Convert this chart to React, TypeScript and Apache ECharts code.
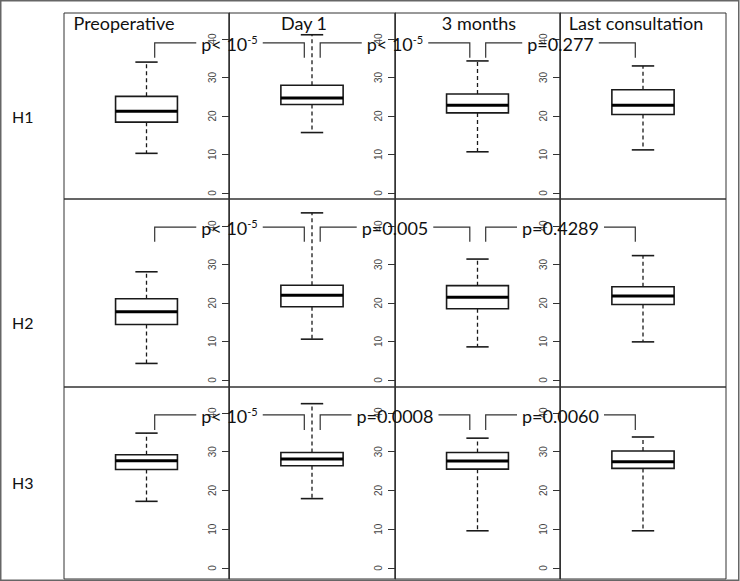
import React, { useEffect, useRef } from "react";
import * as echarts from "echarts";

// ---------- data ----------
const rowLabels = ["H1", "H2", "H3"];
const columns = ["Preoperative", "Day 1", "3 months", "Last consultation"];
const yTicks = [0, 10, 20, 30, 40];
// each box: [lower whisker, Q1, median, Q3, upper whisker]
const h1Boxes = [
  [10.3, 18.4, 21.2, 25.1, 34.0],
  [15.7, 23.0, 24.7, 28.0, 41.1],
  [10.7, 20.8, 22.8, 25.7, 34.3],
  [11.2, 20.4, 22.8, 26.8, 33.0],
];
const h2Boxes = [
  [4.3, 14.4, 17.7, 21.1, 28.1],
  [10.6, 19.0, 22.0, 24.6, 43.4],
  [8.6, 18.5, 21.5, 24.5, 31.4],
  [9.9, 19.6, 21.8, 24.2, 32.3],
];
const h3Boxes = [
  [17.2, 25.4, 27.7, 29.2, 34.8],
  [17.9, 26.4, 28.1, 29.8, 42.4],
  [9.6, 25.5, 27.6, 29.8, 33.5],
  [9.6, 25.7, 27.4, 30.2, 33.8],
];
const h1PValues = ["p< 10^-5", "p< 10^-5", "p=0.277"];
const h2PValues = ["p< 10^-5", "p=0.005", "p=0.4289"];
const h3PValues = ["p< 10^-5", "p=0.0008", "p=0.0060"];

const allBoxes = [h1Boxes, h2Boxes, h3Boxes];
const allPValues = [h1PValues, h2PValues, h3PValues];

// ---------- layout ----------
const colEdges = [64, 229, 395, 560, 726];
const rowTops = [13, 199, 387];
const rowHeights = [186, 188, 192];
const rowRanges = [
  [-1.56, 46.75],
  [-1.82, 47.0],
  [-2.84, 46.7],
];
const bracketLevels = [
  [35.1, 39.0],
  [35.9, 39.7],
  [35.6, 39.5],
];
const headerX = [124, 304, 479, 636];
const rowLabelY = [116, 322, 482];

const FONT = "Lato";
const P_SIZE = 18;
const SUP_SIZE = 11;

let measureCtx: CanvasRenderingContext2D | null = null;
function textWidth(label: string): number {
  if (!measureCtx) measureCtx = document.createElement("canvas").getContext("2d");
  const [a, b] = label.split("^");
  measureCtx!.font = `${P_SIZE}px ${FONT}`;
  let w = measureCtx!.measureText(a).width;
  if (b) {
    measureCtx!.font = `${SUP_SIZE}px ${FONT}`;
    w += measureCtx!.measureText(b).width;
  }
  return w;
}
function richLabel(label: string): string {
  const [a, b] = label.split("^");
  return b ? `${a}{sup|${b}}` : a;
}

const STROKE = "#1a1a1a";

function boxRender(params: any, api: any) {
  const x = api.coord([0, api.value(3)])[0];
  const bw = api.size([1, 0])[0];
  const ys = [1, 2, 3, 4, 5].map((k) => api.coord([0, api.value(k)])[1]);
  const [yMin, yQ1, yMed, yQ3, yMax] = ys;
  const hb = (bw * 0.375) / 2;
  const hc = (bw * 0.135) / 2;
  return {
    type: "group",
    children: [
      { type: "line", shape: { x1: x, y1: yQ3, x2: x, y2: yMax }, style: { stroke: STROKE, lineWidth: 1.3, lineDash: [4, 3] } },
      { type: "line", shape: { x1: x, y1: yQ1, x2: x, y2: yMin }, style: { stroke: STROKE, lineWidth: 1.3, lineDash: [4, 3] } },
      { type: "line", shape: { x1: x - hc, y1: yMax, x2: x + hc, y2: yMax }, style: { stroke: STROKE, lineWidth: 1.6 } },
      { type: "line", shape: { x1: x - hc, y1: yMin, x2: x + hc, y2: yMin }, style: { stroke: STROKE, lineWidth: 1.6 } },
      { type: "rect", shape: { x: x - hb, y: yQ3, width: 2 * hb, height: yQ1 - yQ3 }, style: { fill: "#fff", stroke: STROKE, lineWidth: 1.6 } },
      { type: "line", shape: { x1: x - hb, y1: yMed, x2: x + hb, y2: yMed }, style: { stroke: "#000", lineWidth: 3 } },
    ],
  };
}

function makeBracketRender(r: number) {
  return (params: any, api: any) => {
    const i = api.value(0);
    const label = allPValues[r][i];
    const [lo, hi] = bracketLevels[r];
    const bw = api.size([1, 0])[0];
    const off = bw * 0.048;
    const a = api.coord([i, lo]);
    const aTop = api.coord([i, hi]);
    const b = api.coord([i + 1, lo]);
    const xl = a[0] + off;
    const xr = b[0] - off;
    const mid = (a[0] + b[0]) / 2;
    const tw = textWidth(label);
    const gap = 5;
    const lineStyle = { stroke: "#333", lineWidth: 1.2, fill: null };
    return {
      type: "group",
      children: [
        { type: "polyline", shape: { points: [[xl, a[1]], [xl, aTop[1]], [mid - tw / 2 - gap, aTop[1]]] }, style: lineStyle },
        { type: "polyline", shape: { points: [[mid + tw / 2 + gap, aTop[1]], [xr, aTop[1]], [xr, b[1]]] }, style: lineStyle },
        {
          type: "text",
          x: mid,
          y: aTop[1] + 1,
          style: {
            text: richLabel(label),
            fontSize: P_SIZE,
            fontFamily: FONT,
            lineHeight: 20,
            fill: "#111",
            align: "center",
            verticalAlign: "middle",
            rich: {
              sup: { fontSize: SUP_SIZE, fontFamily: FONT, lineHeight: 11, verticalAlign: "top", fill: "#111" },
            },
          },
        },
      ],
    };
  };
}

function buildOption() {
  const grid: any[] = [];
  const xAxis: any[] = [];
  const yAxis: any[] = [];
  const series: any[] = [];

  for (let r = 0; r < 3; r++) {
    for (let c = 0; c < 4; c++) {
      const g = grid.length;
      grid.push({
        left: colEdges[c],
        top: rowTops[r],
        width: colEdges[c + 1] - colEdges[c],
        height: rowHeights[r],
        show: true,
        borderColor: "#333",
        borderWidth: 1,
        backgroundColor: "transparent",
        containLabel: false,
        outerBoundsMode: "none",
      });
      xAxis.push({ type: "category", gridIndex: g, data: [columns[c]], show: false });
      yAxis.push({
        type: "value",
        gridIndex: g,
        min: rowRanges[r][0],
        max: rowRanges[r][1],
        show: c > 0,
        position: "left",
        axisLine: { show: true, onZero: false, lineStyle: { color: "#333", width: 1 } },
        axisTick: { show: true, length: 7, customValues: yTicks, lineStyle: { color: "#333", width: 1 } },
        axisLabel: {
          show: true,
          customValues: yTicks,
          rotate: 90,
          fontSize: 10,
          color: "#444",
          fontFamily: "Liberation Sans",
          margin: 12,
        },
        splitLine: { show: false },
      });
      series.push({
        type: "custom",
        xAxisIndex: g,
        yAxisIndex: g,
        data: [[0, ...allBoxes[r][c]]],
        encode: { x: 0, y: 3 },
        renderItem: boxRender,
        z: 3,
        silent: true,
      });
    }
  }
  // overlay grids for the comparison brackets
  for (let r = 0; r < 3; r++) {
    const g = grid.length;
    grid.push({
      left: colEdges[0],
      top: rowTops[r],
      width: colEdges[4] - colEdges[0],
      height: rowHeights[r],
      show: false,
      containLabel: false,
      outerBoundsMode: "none",
    });
    xAxis.push({ type: "category", gridIndex: g, data: columns, show: false });
    yAxis.push({ type: "value", gridIndex: g, min: rowRanges[r][0], max: rowRanges[r][1], show: false });
    series.push({
      type: "custom",
      xAxisIndex: g,
      yAxisIndex: g,
      data: allPValues[r].map((_, i) => [i, bracketLevels[r][1]]),
      encode: { x: 0, y: 1 },
      renderItem: makeBracketRender(r),
      z: 5,
      silent: true,
    });
  }

  const graphic: any[] = [
    {
      type: "rect",
      shape: { x: 0.75, y: 0.75, width: 738, height: 579.5 },
      style: { fill: "none", stroke: "#666", lineWidth: 1.5 },
      z: 10,
      silent: true,
    },
  ];
  columns.forEach((name, c) => {
    graphic.push({
      type: "text",
      x: headerX[c],
      y: 23,
      style: { text: name, fontSize: 18, fontFamily: FONT, fill: "#111", align: "center", verticalAlign: "middle" },
      z: 10,
      silent: true,
    });
  });
  rowLabels.forEach((name, r) => {
    graphic.push({
      type: "text",
      x: 12,
      y: rowLabelY[r],
      style: { text: name, fontSize: 16, fontFamily: FONT, fill: "#111", align: "left", verticalAlign: "middle" },
      z: 10,
      silent: true,
    });
  });

  return {
    animation: false,
    backgroundColor: "#fff",
    grid,
    xAxis,
    yAxis,
    series,
    graphic,
  };
}

export default function App() {
  const ref = useRef<HTMLDivElement>(null);
  useEffect(() => {
    if (!ref.current) return;
    const chart = echarts.init(ref.current, null, { renderer: "svg" });
    chart.setOption(buildOption() as any);
    return () => chart.dispose();
  }, []);
  return (
    <div
      ref={ref}
      style={{ position: "fixed", left: 0, top: 0, width: 740, height: 581, background: "#fff" }}
    />
  );
}
